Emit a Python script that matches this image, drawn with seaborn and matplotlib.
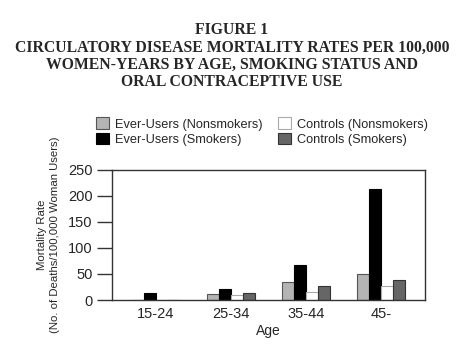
import matplotlib
matplotlib.use("Agg")
import matplotlib.pyplot as plt
import seaborn as sns
import pandas as pd
from matplotlib.patches import Patch

ages = ["15-24", "25-34", "35-44", "45-"]
series = ["Ever-Users (Nonsmokers)", "Ever-Users (Smokers)",
          "Controls (Nonsmokers)", "Controls (Smokers)"]
ever_nonsmokers = [0, 11, 34, 50]
ever_smokers = [14, 22, 68, 213]
controls_nonsmokers = [0, 9, 15, 26]
controls_smokers = [0, 14, 26, 38]
yticks = [0, 50, 100, 150, 200, 250]

colors = ["#b4b4b4", "#000000", "#ffffff", "#666666"]
edges = ["#555555", "#000000", "#aaaaaa", "#333333"]

rows = []
for s, vals in zip(series, [ever_nonsmokers, ever_smokers, controls_nonsmokers, controls_smokers]):
    for a, v in zip(ages, vals):
        rows.append({"Age": a, "Series": s, "Value": v})
df = pd.DataFrame(rows)

sns.set_style("white")
plt.rcParams['font.family'] = ['Liberation Sans', 'DejaVu Sans']

fig = plt.figure(figsize=(4.64, 3.49), dpi=100)
ax = fig.add_axes([0.2414, 0.1404, 0.6746, 0.3725])

sns.barplot(data=df, x="Age", y="Value", hue="Series", order=ages, hue_order=series,
            palette=colors, width=0.64, gap=0, ax=ax, legend=False, errorbar=None)

for i, cont in enumerate(ax.containers):
    for p in cont:
        p.set_edgecolor(edges[i])
        p.set_linewidth(0.8)

ax.set_xlim(-0.58, 3.58)
ax.set_ylim(0, 250)
ax.set_yticks(yticks)
ax.tick_params(axis='y', length=11, width=1, color="#333333", labelsize=10.5, pad=3, left=True)
ax.tick_params(axis='x', length=0, labelsize=10.5, pad=5)
for sp in ax.spines.values():
    sp.set_visible(True)
    sp.set_color("#333333")
    sp.set_linewidth(1)
ax.set_xlabel("Age", fontsize=10, labelpad=2)
ax.set_ylabel("Mortality Rate\n(No. of Deaths/100,000 Woman Users)", fontsize=8.2, labelpad=6,
              linespacing=1.3)

handles = [Patch(facecolor=c, edgecolor=e, linewidth=0.8) for c, e in zip(colors, edges)]
fig.legend(handles, series, ncol=2, loc="upper left", bbox_to_anchor=(0.196, 0.678),
           frameon=False, fontsize=9.2, handlelength=1.0, handleheight=1.0,
           handletextpad=0.5, columnspacing=1.2, labelspacing=0.15, borderaxespad=0)

title = ("FIGURE 1\nCIRCULATORY DISEASE MORTALITY RATES PER 100,000\n"
         "WOMEN-YEARS BY AGE, SMOKING STATUS AND\nORAL CONTRACEPTIVE USE")
fig.text(0.5, 0.937, title, ha="center", va="top", fontsize=11.3, fontweight="bold",
         family=["Liberation Serif", "DejaVu Serif"], linespacing=1.12)

fig.savefig("out.png", dpi=100)
